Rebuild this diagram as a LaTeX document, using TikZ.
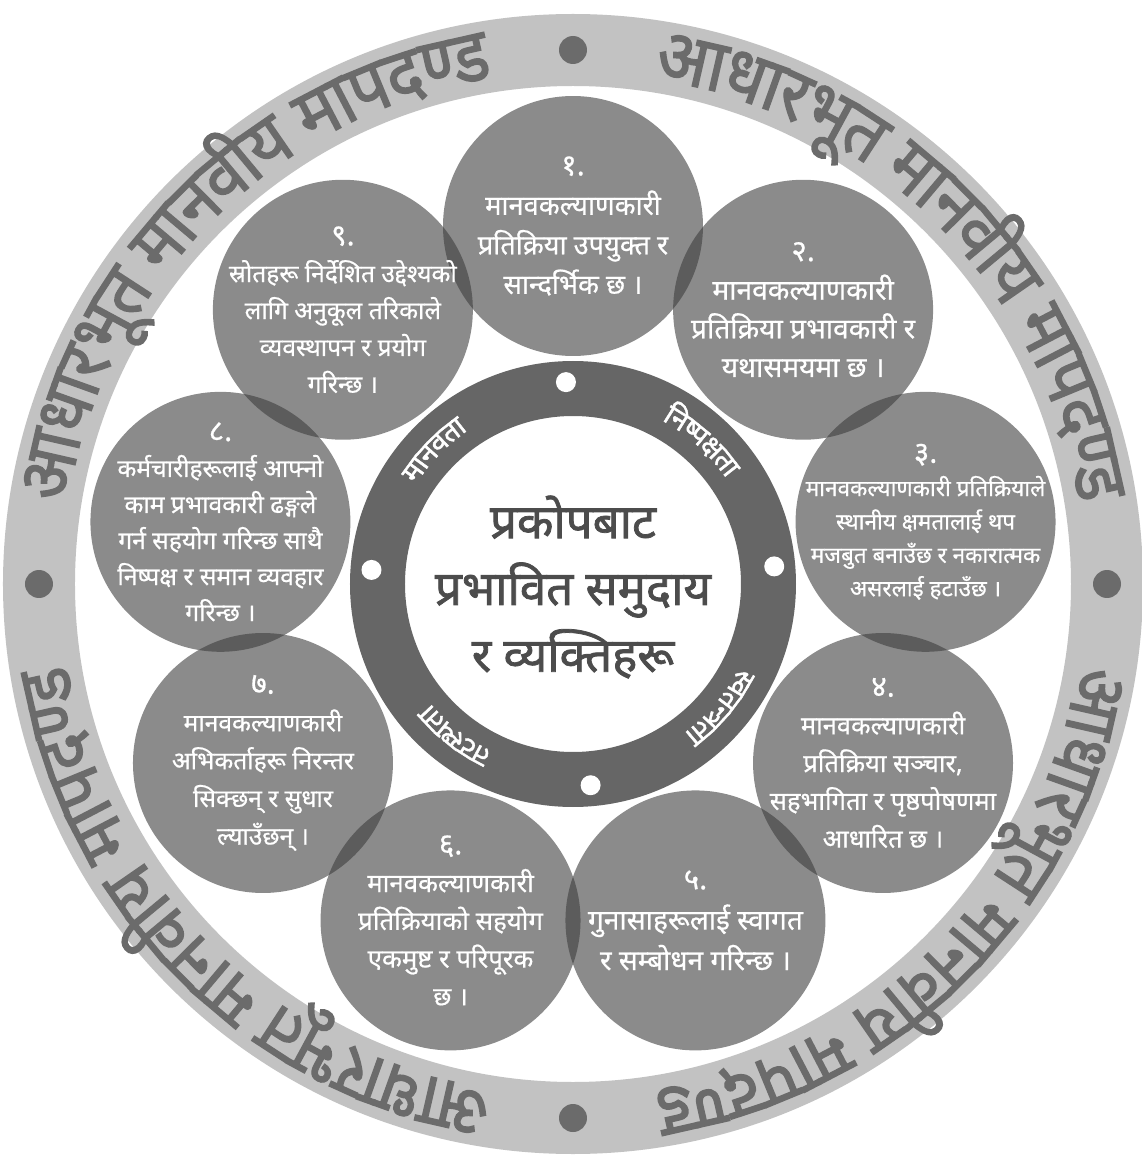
\documentclass[tikz,border=0pt]{standalone}
\usepackage{fontspec}
\usepackage{tikz}
\newfontfamily\deva[Script=Devanagari]{Noto Sans}
\newfontfamily\devam[Script=Devanagari, FakeBold=0.6]{Noto Sans}
\newfontfamily\devab[Script=Devanagari, FakeBold=1.6]{Noto Sans}
\newfontfamily\devao[Script=Devanagari, FakeBold=1.8, FakeStretch=0.92]{Noto Sans}
\definecolor{ringgray}{gray}{0.76}
\definecolor{wordgray}{gray}{0.42}
\definecolor{petalgray}{gray}{0.24}
\definecolor{hubgray}{gray}{0.40}
\definecolor{centergray}{gray}{0.30}
\newcommand\outerfont{\devao\fontsize{42}{48}\selectfont}
\newcommand\hubfont{\devab\fontsize{16}{19}\selectfont}
\newcommand\numfont{\fontsize{17}{20}\selectfont}
\def\spmark{|}
\newlength\clen
% widths of the clusters, kept as \cw<name><k>
\newcommand\measurewords[3]{%
    \foreach \s [count=\k] in {#3} {%
        \edef\cur{\s}%
        \ifx\cur\spmark\settowidth\clen{#2\ }\else\settowidth\clen{#2\s}\fi
        \expandafter\xdef\csname cw#1\k\endcsname{\the\clen}%
    }%
}
% text set cluster by cluster round an arc, clockwise, tops outward
% #1 baseline radius, #2 spacing radius, #3 middle angle, #4 font, #5 colour,
% #6 measured name, #7 node name, #8 clusters
\newcommand\arcwords[8]{%
    \xdef\arctot{0}%
    \foreach \s [count=\k] in {#8} {%
        \clen=\csname cw#6\k\endcsname\relax
        \pgfmathsetmacro\tmp{\arctot+\clen/(#2*0.5690551)*180/pi}%
        \xdef\arctot{\tmp}%
    }%
    \pgfmathsetmacro\tmp{#3+\arctot/2}%
    \xdef\arcpos{\tmp}%
    \foreach \s [count=\k] in {#8} {%
        \edef\cur{\s}%
        \clen=\csname cw#6\k\endcsname\relax
        \pgfmathsetmacro\da{\clen/(#2*0.5690551)*180/pi}%
        \pgfmathsetmacro\mid{\arcpos-\da/2}%
        \ifx\cur\spmark\else
            \node[text=#5, rotate=\mid-90, anchor=base, inner sep=0pt] (#7\k) at (\mid:#1) {#4\s};
        \fi
        \pgfmathsetmacro\tmp{\arcpos-\da}%
        \xdef\arcpos{\tmp}%
    }%
}
\tikzset{
    % Ring styles
    outer band/.style={fill=ringgray, even odd rule},
    hub band/.style={fill=hubgray, even odd rule},
    outer dot/.style={circle, fill=wordgray, minimum size=5.6mm, inner sep=0pt},
    hub dot/.style={circle, fill=white, minimum size=4mm, inner sep=0pt},
    % Petal styles
    petal/.style={circle, fill=petalgray, fill opacity=0.6, minimum size=5.2cm, inner sep=0pt},
    petal text/.style={text=white, align=center, inner sep=0pt},
    centre text/.style={text=centergray, align=center, font=\devab\fontsize{27}{38}\selectfont},
}

\begin{document}%
\measurewords{o}{\outerfont}{आ,धा,र,भू,त,|,मा,न,वी,य,|,मा,प,द,ण्ड}%
\measurewords{wa}{\hubfont}{मा,न,व,ता}%
\measurewords{wb}{\hubfont}{नि,ष्प,क्ष,ता}%
\measurewords{wc}{\hubfont}{स्व,त,न्त्र,ता}%
\measurewords{wd}{\hubfont}{त,ट,स्थ,ता}%
\begin{tikzpicture}[x=0.02cm, y=0.02cm]
    \useasboundingbox (-573,-583) rectangle (569,584);

    % Outer band
    \fill[outer band] (0,0) circle (570) (0,0) circle (498);
    \foreach \m [count=\q] in {135,45,-45,-135} {
        \arcwords{512}{535}{\m}{\outerfont}{wordgray}{o}{o\q-}{आ,धा,र,भू,त,|,मा,न,वी,य,|,मा,प,द,ण्ड}
    }
    \foreach \d [count=\q] in {90,0,-90,180} {
        \node[outer dot] (od\q) at (\d:534) {};
    }

    % Petals
    \foreach \i/\a in {1/90, 2/50, 3/10, 4/-30, 5/-70, 6/-110, 7/-150, 8/170, 9/130} {
        \node[petal] (p\i) at (\a:358) {};
    }
    \foreach \i/\fs/\ls/\txt in {
        1/15.5/22.5/{{\numfont १.}\\मानवकल्याणकारी\\प्रतिक्रिया उपयुक्त र\\सान्दर्भिक छ ।},
        2/16/22/{{\numfont २.}\\मानवकल्याणकारी\\प्रतिक्रिया प्रभावकारी र\\यथासमयमा छ ।},
        3/12.8/19/{{\numfont ३.}\\मानवकल्याणकारी प्रतिक्रियाले\\स्थानीय क्षमतालाई थप\\मजबुत बनाउँछ र नकारात्मक\\असरलाई हटाउँछ ।},
        4/14.5/21.5/{{\numfont ४.}\\मानवकल्याणकारी\\प्रतिक्रिया सञ्चार,\\सहभागिता र पृष्ठपोषणमा\\आधारित छ ।},
        5/16/23/{{\numfont ५.}\\गुनासाहरूलाई स्वागत\\र सम्बोधन गरिन्छ ।},
        6/14.7/21.5/{{\numfont ६.}\\मानवकल्याणकारी\\प्रतिक्रियाको सहयोग\\एकमुष्ट र परिपूरक\\छ ।},
        7/14/21.5/{{\numfont ७.}\\मानवकल्याणकारी\\अभिकर्ताहरू निरन्तर\\सिक्छन् र सुधार\\ल्याउँछन् ।},
        8/14/20.5/{{\numfont ८.}\\कर्मचारीहरूलाई आफ्नो\\काम प्रभावकारी ढङ्गले\\गर्न सहयोग गरिन्छ साथै\\निष्पक्ष र समान व्यवहार\\गरिन्छ ।},
        9/14/21/{{\numfont ९.}\\स्रोतहरू निर्देशित उद्देश्यको\\लागि अनुकूल तरिकाले\\व्यवस्थापन र प्रयोग\\गरिन्छ ।}} {
        \node[petal text, font=\devam\fontsize{\fs}{\ls}\selectfont] (t\i) at (p\i) {\txt};
    }

    % Hub ring
    \fill[hub band] (0,0) circle (223) (0,0) circle (168);
    \foreach \d [count=\q] in {92,5,-85,176} {
        \node[hub dot] (hd\q) at (\d:202) {};
    }
    \arcwords{186}{196}{136}{\hubfont}{white}{wa}{w1-}{मा,न,व,ता}
    \arcwords{186}{196}{48}{\hubfont}{white}{wb}{w2-}{नि,ष्प,क्ष,ता}
    \arcwords{186}{196}{-40}{\hubfont}{white}{wc}{w3-}{स्व,त,न्त्र,ता}
    \arcwords{186}{196}{-128}{\hubfont}{white}{wd}{w4-}{त,ट,स्थ,ता}

    % Centre
    \node[centre text] (centre) at (0,-3) {प्रकोपबाट\\प्रभावित समुदाय\\र व्यक्तिहरू};
\end{tikzpicture}
\end{document}
